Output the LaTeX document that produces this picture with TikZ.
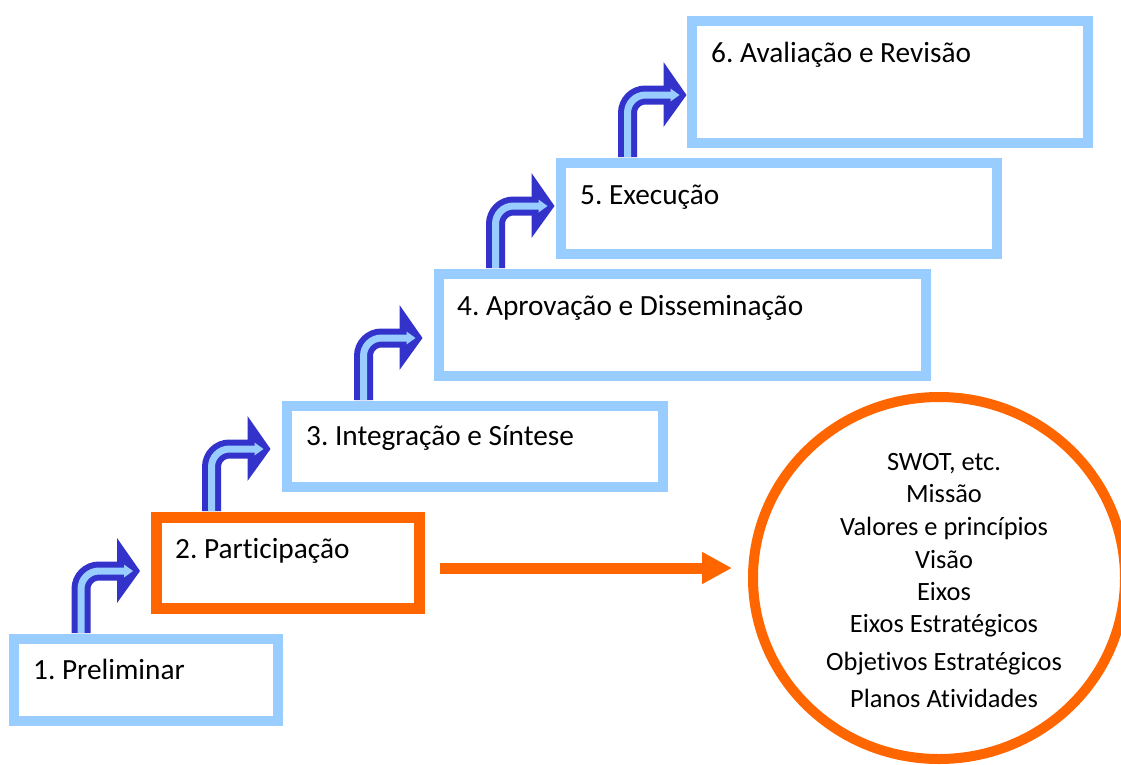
\documentclass[tikz,border=0pt]{standalone}
\usepackage{fontspec}
\setmainfont{Carlito}[Ligatures=NoCommon]
\frenchspacing
\usetikzlibrary{shapes.geometric,arrows.meta,calc}
\definecolor{lblue}{HTML}{99CCFF}
\definecolor{orng}{HTML}{FF6600}
\definecolor{dblue}{HTML}{3333CC}
\tikzset{
  stagebox/.style={draw=lblue, line width=10pt, rectangle, inner sep=0pt},
  activebox/.style={draw=orng, line width=11pt, rectangle, inner sep=0pt},
  stagetext/.style={anchor=base west, inner sep=0pt, font=\fontsize{29.3}{35}\selectfont\frenchspacing},
  circtext/.style={anchor=base, inner sep=0pt, font=\fontsize{26.4}{32}\selectfont},
  oarrow/.style={draw=orng, line width=11pt, -{Triangle[length=30pt,width=30pt]}},
}
\newcommand{\bentarrow}[1]{%
  \begin{scope}[shift={(#1)}]
    \draw[dblue, line width=19pt, line cap=butt]
      (0,0) -- (0,-44) .. controls (0,-54) and (8,-62) .. (18,-62) -- (37,-62);
    \fill[dblue] (36,-95) -- (59,-62) -- (36,-30) -- cycle;
    \draw[lblue, line width=7pt, line cap=butt]
      (0,0) -- (0,-44) .. controls (0,-54) and (8,-62) .. (18,-62) -- (44,-62);
    \fill[lblue] (43,-68.5) -- (52,-62) -- (43,-55.5) -- cycle;
  \end{scope}}
\begin{document}
\begin{tikzpicture}[x=1pt, y=-1pt]
\clip (0,0) rectangle (1121,764);
\fill[white] (0,0) rectangle (1121,764);

% boxes
\node[stagebox, minimum width=264pt, minimum height=82pt] (b1) at (146,680) {};
\node[activebox, minimum width=263pt, minimum height=91pt] (b2) at (288,563) {};
\node[stagebox, minimum width=376pt, minimum height=81pt] (b3) at (475,446.5) {};
\node[stagebox, minimum width=487pt, minimum height=102pt] (b4) at (682.5,325) {};
\node[stagebox, minimum width=436pt, minimum height=91pt] (b5) at (779,208.5) {};
\node[stagebox, minimum width=396pt, minimum height=122pt] (b6) at (890,82) {};

% labels
\node[stagetext] (t1) at ($(b1.north west)+(24,45)$) {1. Preliminar};
\node[stagetext] (t2) at ($(b2.north west)+(24,46)$) {2. Participação};
\node[stagetext] (t3) at ($(b3.north west)+(24,44)$) {3. Integração e Síntese};
\node[stagetext] (t4) at ($(b4.north west)+(23,46)$) {4. Aprovação e Disseminação};
\node[stagetext] (t5) at ($(b5.north west)+(24,46)$) {5. Execução};
\node[stagetext] (t6) at ($(b6.north west)+(24,46)$) {6. Avaliação e Revisão};

% bent arrows
\coordinate (a1) at ($(b1.north west)+(72,-1)$);
\coordinate (a2) at ($(b2.north west)+(60.5,-1)$);
\coordinate (a3) at ($(b3.north west)+(81.5,-1)$);
\coordinate (a4) at ($(b4.north west)+(61.5,-1)$);
\coordinate (a5) at ($(b5.north west)+(71.5,-1)$);
\bentarrow{a1}
\bentarrow{a2}
\bentarrow{a3}
\bentarrow{a4}
\bentarrow{a5}

% circle
\node[draw=orng, line width=10pt, ellipse, minimum width=372pt, minimum height=362pt, inner sep=0pt] (circ) at (939,578) {};
\foreach \t/\y [count=\i] in {{SWOT, etc.}/470, Missão/502.7, {Valores e princípios}/535, Visão/568, Eixos/600.7, {Eixos Estratégicos}/632.7, {Objetivos Estratégicos}/670.7, {Planos Atividades}/707.3}
  \node[circtext] (l\i) at (944,\y) {\t};

% orange connector
\draw[oarrow] ($(b2.east)+(15,5)$) -- ($(circ.west)+(-16,-10)$);
\end{tikzpicture}
\end{document}
